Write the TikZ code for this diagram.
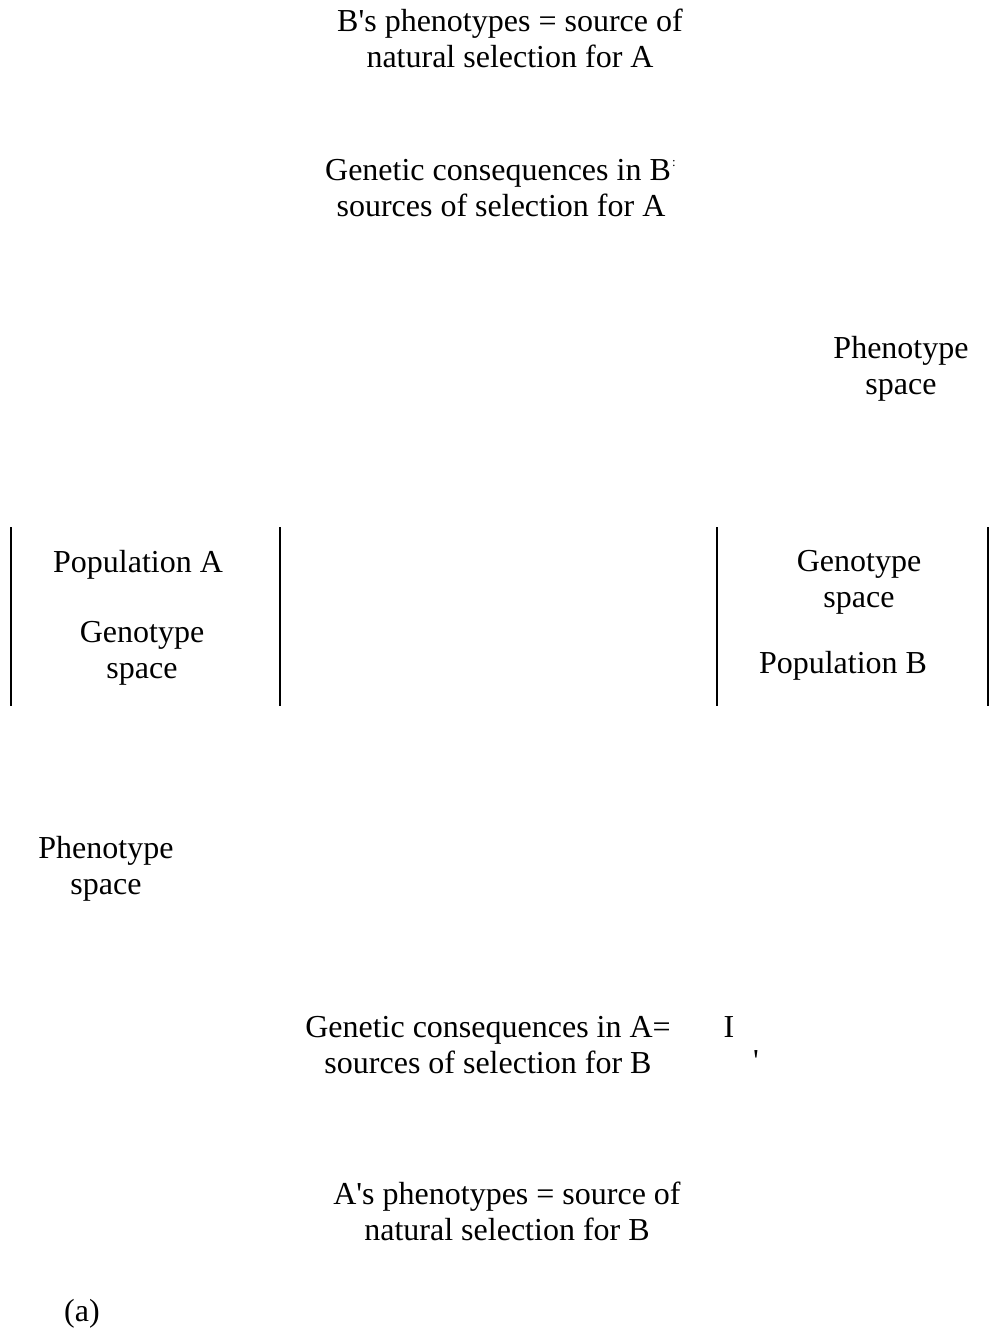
\documentclass[tikz,border=0pt]{standalone}
\usepackage{fontspec}
\setmainfont{Liberation Serif}
\newcommand{\sq}{\textquotesingle}
\begin{document}
\begin{tikzpicture}[x=1pt,y=-1pt,
  lbl/.style={inner sep=0pt,align=center,font=\fontsize{32}{36}\selectfont},
  bar/.style={line width=1.6pt}]
\useasboundingbox (0,0) rectangle (990,1328);
\node[lbl] (bph) at (510,38) {B\sq s phenotypes = source of\\natural selection for A};
\node[lbl] (gcb) at (498,188) {Genetic consequences in B\\\hspace*{6pt}sources of selection for A};
\node[inner sep=0pt,font=\fontsize{13}{14}\selectfont] (colon) at (674,164) {:};
\node[lbl] (phr) at (901,369) {Phenotype\\space};
\draw[bar] (11,527) -- (11,706);
\draw[bar] (280,527) -- (280,706);
\draw[bar] (717,527) -- (717,706);
\draw[bar] (988,527) -- (988,706);
\node[lbl] (popa) at (138,565) {Population A};
\node[lbl] (gsa) at (142,653) {Genotype\\space};
\node[lbl] (gsb) at (859,582) {Genotype\\space};
\node[lbl] (popb) at (843,666) {Population B};
\node[lbl] (phl) at (106,869) {Phenotype\\space};
\node[lbl] (gca) at (488,1045) {Genetic consequences in A=\\sources of selection for B};
\node[lbl] (iota) at (729,1027) {I};
\node[lbl] (tick) at (756,1061) {\sq};
\node[lbl] (aph) at (507,1211) {A\sq s phenotypes = source of\\natural selection for B};
\node[lbl] (lab) at (82,1314) {(a)};
\end{tikzpicture}
\end{document}
